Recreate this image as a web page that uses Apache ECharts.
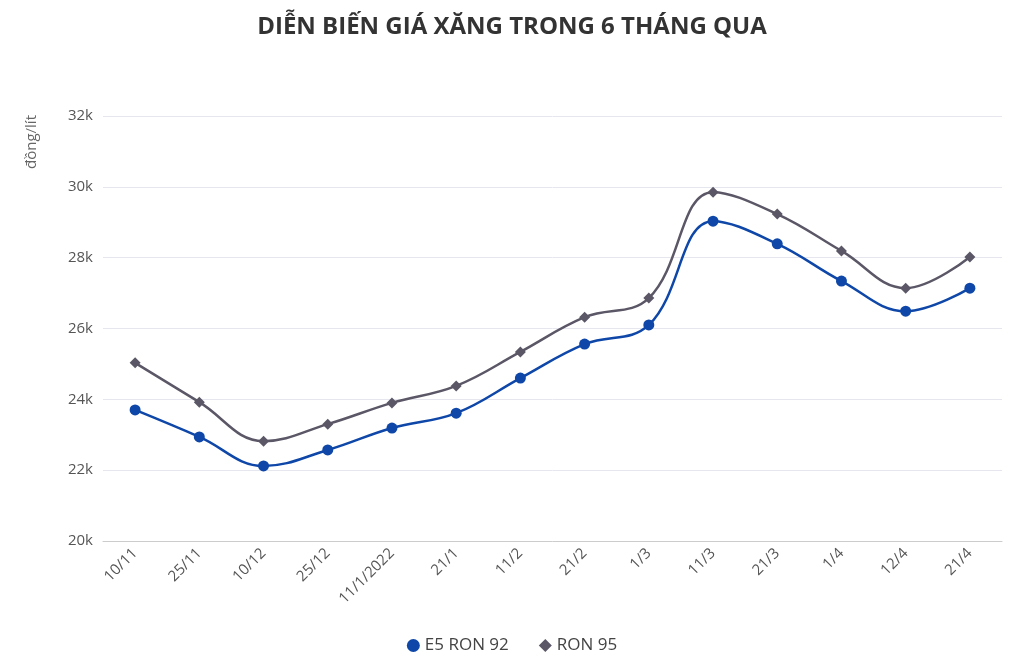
<!DOCTYPE html>
<html>
<head>
<meta charset="utf-8">
<script src="https://cdn.jsdelivr.net/npm/echarts@6/dist/echarts.min.js"></script>
<style>
  html, body { margin: 0; padding: 0; background: #fff; }
  #mainChart { width: 1024px; height: 664px; }
</style>
</head>
<body>
<div id="mainChart"></div>
<script>
// nhãn trục hoành
var categories = ['10/11', '25/11', '10/12', '25/12', '11/1/2022', '21/1', '11/2', '21/2', '1/3', '11/3', '21/3', '1/4', '12/4', '21/4']
// giá xăng E5 RON 92 (đồng/lít)
var e5Ron92 = [23700, 22940, 22120, 22570, 23190, 23610, 24600, 25560, 26100, 29030, 28390, 27340, 26490, 27140]
// giá xăng RON 95 (đồng/lít)
var ron95 = [25030, 23920, 22820, 23300, 23900, 24380, 25340, 26320, 26860, 29850, 29230, 28190, 27140, 28020]

var chart = echarts.init(document.getElementById('mainChart'))
var font = '"Open Sans", "Noto Sans", sans-serif'

var option = {
  animation: false,
  title: {
    text: 'DIỄN BIẾN GIÁ XĂNG TRONG 6 THÁNG QUA',
    left: 'center',
    top: 10,
    textStyle: { fontFamily: font, fontSize: 24, fontWeight: 'bold', color: '#333' }
  },
  graphic: [{
    type: 'text',
    x: 32,
    y: 142,
    rotation: Math.PI / 2,
    style: {
      text: 'đồng/lít',
      font: '15px ' + font,
      fill: '#666',
      align: 'center',
      verticalAlign: 'middle'
    }
  }],
  legend: {
    bottom: 5,
    left: 'center',
    itemWidth: 13,
    itemHeight: 13,
    itemGap: 30,
    textStyle: { fontFamily: font, fontSize: 17, color: '#444' },
    data: [
      { name: 'E5 RON 92', icon: 'circle' },
      { name: 'RON 95', icon: 'diamond' }
    ]
  },
  grid: { left: 103, right: 22, top: 116, bottom: 123 },
  xAxis: {
    type: 'category',
    boundaryGap: true,
    data: categories,
    axisLine: { lineStyle: { color: '#ccc' } },
    axisTick: { show: false },
    axisLabel: { rotate: 45, fontFamily: font, fontSize: 15, color: '#555', margin: 10 }
  },
  yAxis: {
    type: 'value',
    min: 20000,
    max: 32000,
    interval: 2000,
    axisLine: { show: false },
    axisTick: { show: false },
    splitLine: { lineStyle: { color: '#e6e6ee' } },
    axisLabel: {
      fontFamily: font, fontSize: 15, color: '#555', margin: 10,
      formatter: function (v) { return (v / 1000) + 'k' }
    }
  },
  series: [
    {
      name: 'E5 RON 92',
      type: 'line',
      smooth: 0.4,
      data: e5Ron92,
      symbol: 'circle',
      symbolSize: 11,
      lineStyle: { color: '#0e47a8', width: 2.5 },
      itemStyle: { color: '#0e47a8' }
    },
    {
      name: 'RON 95',
      type: 'line',
      smooth: 0.4,
      data: ron95,
      symbol: 'diamond',
      symbolSize: 11,
      lineStyle: { color: '#5b5766', width: 2.5 },
      itemStyle: { color: '#5b5766' }
    }
  ]
}
chart.setOption(option)
</script>
</body>
</html>
